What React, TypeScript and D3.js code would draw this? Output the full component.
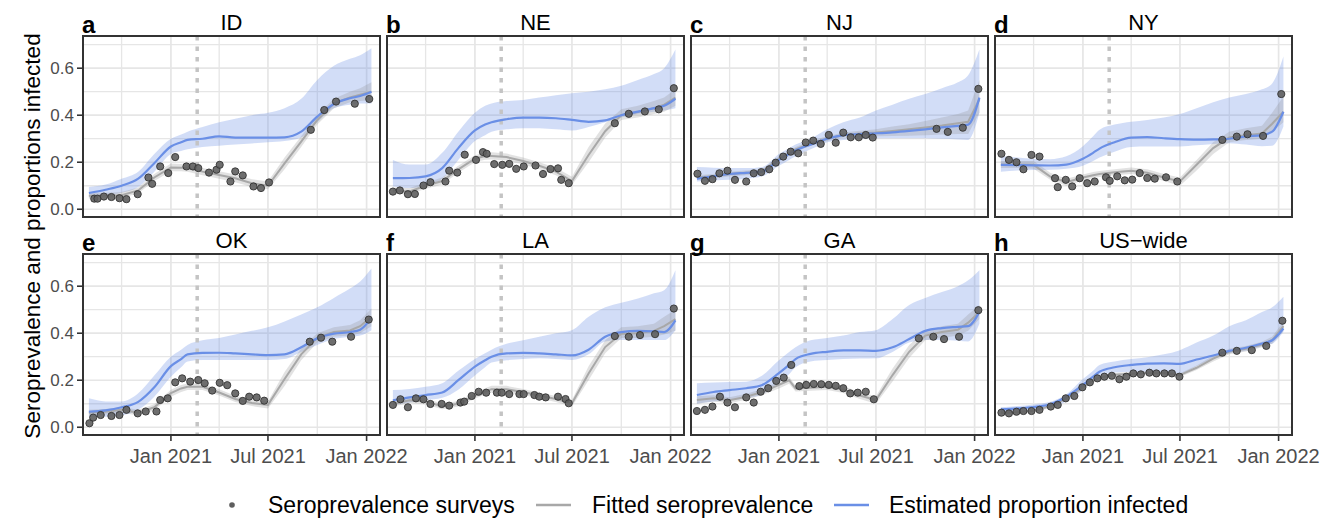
import React from "react";
import * as d3 from "d3";

const parse = d3.timeParse("%Y-%m-%d");

// panel titles and letters
const stateNames = ["ID", "NE", "NJ", "NY", "OK", "LA", "GA", "US\u2212wide"];
const panelLetters = ["a", "b", "c", "d", "e", "f", "g", "h"];

// x axis
const xStart = "2020-07-21";
const xEnd = "2022-01-26";
const xTickDates = ["2021-01-01", "2021-07-01", "2022-01-01"];
const xTickLabels = ["Jan 2021", "Jul 2021", "Jan 2022"];
const xMinorDates = ["2020-10-01", "2021-04-01", "2021-10-01"];
const markerDate = "2021-02-19";

// y axis
const yTicks = [0, 0.2, 0.4, 0.6];
const yTickLabels = ["0.0", "0.2", "0.4", "0.6"];
const yMinor = [0.1, 0.3, 0.5, 0.7];

// dates at which fitted / estimated curves are given
const curveDates = [
  "2020-08-01", "2020-09-01", "2020-10-01", "2020-11-01", "2020-12-01",
  "2021-01-01", "2021-01-20", "2021-02-01", "2021-03-01", "2021-04-01",
  "2021-05-01", "2021-06-01", "2021-07-01", "2021-08-01", "2021-09-01",
  "2021-10-01", "2021-11-01", "2021-12-01", "2021-12-20", "2022-01-10",
];

// ---- ID
const idFit = [0.057, 0.058, 0.06, 0.08, 0.135, 0.178, 0.177, 0.175, 0.16, 0.146, 0.132, 0.111, 0.10, 0.195, 0.288, 0.38, 0.45, 0.476, 0.487, 0.50];
const idFitLo = [0.045, 0.047, 0.048, 0.068, 0.12, 0.162, 0.162, 0.16, 0.145, 0.13, 0.115, 0.095, 0.085, 0.17, 0.265, 0.36, 0.43, 0.455, 0.46, 0.465];
const idFitHi = [0.07, 0.07, 0.073, 0.093, 0.15, 0.195, 0.193, 0.19, 0.175, 0.162, 0.148, 0.128, 0.118, 0.22, 0.31, 0.40, 0.47, 0.50, 0.515, 0.54];
const idEst = [0.069, 0.083, 0.10, 0.13, 0.196, 0.267, 0.285, 0.295, 0.30, 0.31, 0.305, 0.305, 0.305, 0.306, 0.33, 0.394, 0.448, 0.472, 0.482, 0.50];
const idEstLo = [0.05, 0.055, 0.07, 0.095, 0.16, 0.235, 0.248, 0.255, 0.265, 0.27, 0.275, 0.28, 0.285, 0.29, 0.305, 0.37, 0.43, 0.445, 0.45, 0.45];
const idEstHi = [0.095, 0.105, 0.13, 0.16, 0.235, 0.30, 0.318, 0.33, 0.35, 0.37, 0.385, 0.40, 0.41, 0.43, 0.47, 0.55, 0.61, 0.64, 0.655, 0.685];
const idSurveys: [string, number][] = [
  ["2020-08-11", 0.045], ["2020-08-17", 0.045], ["2020-08-29", 0.054], ["2020-09-12", 0.052], ["2020-09-27", 0.047],
  ["2020-10-10", 0.043], ["2020-10-31", 0.064], ["2020-11-20", 0.135], ["2020-11-27", 0.108], ["2020-12-12", 0.182],
  ["2020-12-27", 0.154], ["2021-01-09", 0.222], ["2021-01-30", 0.182], ["2021-02-11", 0.182], ["2021-02-21", 0.175],
  ["2021-03-13", 0.156], ["2021-03-27", 0.168], ["2021-04-02", 0.189], ["2021-04-22", 0.118], ["2021-05-01", 0.161],
  ["2021-05-15", 0.144], ["2021-06-04", 0.097], ["2021-06-18", 0.09], ["2021-07-03", 0.114], ["2021-09-19", 0.338],
  ["2021-10-14", 0.422], ["2021-11-05", 0.458], ["2021-12-10", 0.449], ["2022-01-06", 0.469],
];

// ---- NE
const neFit = [0.08, 0.076, 0.10, 0.12, 0.17, 0.215, 0.226, 0.227, 0.222, 0.205, 0.185, 0.16, 0.12, 0.231, 0.332, 0.40, 0.414, 0.43, 0.445, 0.475];
const neFitLo = [0.068, 0.064, 0.087, 0.105, 0.155, 0.2, 0.211, 0.212, 0.207, 0.19, 0.17, 0.145, 0.103, 0.2, 0.305, 0.38, 0.39, 0.405, 0.415, 0.44];
const neFitHi = [0.092, 0.09, 0.113, 0.135, 0.185, 0.23, 0.241, 0.242, 0.237, 0.22, 0.2, 0.177, 0.138, 0.265, 0.365, 0.425, 0.44, 0.46, 0.475, 0.51];
const neEst = [0.132, 0.133, 0.14, 0.175, 0.26, 0.335, 0.36, 0.37, 0.383, 0.39, 0.39, 0.387, 0.38, 0.372, 0.378, 0.40, 0.415, 0.43, 0.44, 0.47];
const neEstLo = [0.097, 0.09, 0.10, 0.13, 0.21, 0.29, 0.315, 0.33, 0.34, 0.345, 0.345, 0.34, 0.335, 0.35, 0.37, 0.39, 0.405, 0.415, 0.42, 0.43];
const neEstHi = [0.21, 0.19, 0.19, 0.24, 0.33, 0.41, 0.44, 0.45, 0.46, 0.465, 0.475, 0.485, 0.493, 0.50, 0.51, 0.525, 0.55, 0.575, 0.60, 0.68];
const neSurveys: [string, number][] = [
  ["2020-08-01", 0.075], ["2020-08-14", 0.08], ["2020-08-29", 0.064], ["2020-09-11", 0.065], ["2020-09-27", 0.101],
  ["2020-10-10", 0.115], ["2020-11-07", 0.118], ["2020-11-14", 0.164], ["2020-11-29", 0.156], ["2020-12-13", 0.232],
  ["2021-01-03", 0.21], ["2021-01-16", 0.243], ["2021-01-23", 0.236], ["2021-02-06", 0.192], ["2021-02-21", 0.189],
  ["2021-03-06", 0.193], ["2021-03-19", 0.172], ["2021-04-02", 0.182], ["2021-04-24", 0.186], ["2021-05-08", 0.15],
  ["2021-05-22", 0.171], ["2021-06-05", 0.174], ["2021-06-11", 0.125], ["2021-06-25", 0.111], ["2021-09-19", 0.366],
  ["2021-10-15", 0.406], ["2021-11-14", 0.416], ["2021-12-10", 0.425], ["2022-01-07", 0.515],
];

// ---- NJ
const njFit = [0.135, 0.14, 0.15, 0.155, 0.16, 0.215, 0.238, 0.255, 0.28, 0.30, 0.316, 0.322, 0.326, 0.333, 0.34, 0.348, 0.356, 0.366, 0.372, 0.468];
const njFitLo = [0.125, 0.13, 0.14, 0.145, 0.15, 0.205, 0.228, 0.245, 0.27, 0.29, 0.305, 0.31, 0.31, 0.312, 0.313, 0.315, 0.318, 0.32, 0.32, 0.41];
const njFitHi = [0.145, 0.15, 0.16, 0.165, 0.17, 0.225, 0.248, 0.265, 0.29, 0.31, 0.327, 0.334, 0.34, 0.352, 0.362, 0.375, 0.39, 0.405, 0.42, 0.55];
const njEst = [0.13, 0.14, 0.15, 0.155, 0.16, 0.21, 0.235, 0.25, 0.275, 0.30, 0.315, 0.32, 0.323, 0.327, 0.333, 0.34, 0.348, 0.355, 0.36, 0.475];
const njEstLo = [0.118, 0.122, 0.125, 0.13, 0.14, 0.185, 0.21, 0.225, 0.255, 0.285, 0.295, 0.30, 0.302, 0.302, 0.302, 0.302, 0.30, 0.297, 0.295, 0.41];
const njEstHi = [0.18, 0.177, 0.175, 0.175, 0.18, 0.235, 0.26, 0.275, 0.30, 0.34, 0.37, 0.39, 0.42, 0.445, 0.47, 0.49, 0.515, 0.54, 0.57, 0.68];
const njSurveys: [string, number][] = [
  ["2020-08-02", 0.151], ["2020-08-16", 0.121], ["2020-08-30", 0.128], ["2020-09-12", 0.153], ["2020-09-27", 0.164],
  ["2020-10-11", 0.125], ["2020-11-01", 0.118], ["2020-11-15", 0.153], ["2020-11-29", 0.158], ["2020-12-14", 0.17],
  ["2020-12-26", 0.198], ["2021-01-09", 0.224], ["2021-01-23", 0.245], ["2021-02-06", 0.238], ["2021-02-20", 0.284],
  ["2021-03-06", 0.292], ["2021-03-20", 0.278], ["2021-04-04", 0.316], ["2021-04-17", 0.283], ["2021-05-01", 0.326],
  ["2021-05-15", 0.306], ["2021-05-30", 0.306], ["2021-06-12", 0.316], ["2021-06-25", 0.305], ["2021-10-22", 0.342],
  ["2021-11-12", 0.329], ["2021-12-10", 0.347], ["2022-01-08", 0.512],
];

// ---- NY
const nyFit = [0.19, 0.19, 0.189, 0.139, 0.115, 0.135, 0.145, 0.15, 0.157, 0.164, 0.155, 0.135, 0.118, 0.189, 0.26, 0.305, 0.315, 0.322, 0.364, 0.415];
const nyFitLo = [0.175, 0.175, 0.172, 0.125, 0.1, 0.122, 0.132, 0.137, 0.145, 0.15, 0.14, 0.12, 0.1, 0.165, 0.235, 0.285, 0.295, 0.3, 0.33, 0.37];
const nyFitHi = [0.205, 0.205, 0.205, 0.155, 0.13, 0.148, 0.158, 0.163, 0.17, 0.178, 0.17, 0.15, 0.135, 0.21, 0.285, 0.33, 0.345, 0.355, 0.41, 0.48];
const nyEst = [0.189, 0.188, 0.187, 0.186, 0.19, 0.215, 0.24, 0.258, 0.285, 0.305, 0.307, 0.302, 0.298, 0.296, 0.297, 0.30, 0.31, 0.315, 0.33, 0.415];
const nyEstLo = [0.16, 0.165, 0.167, 0.168, 0.172, 0.185, 0.205, 0.22, 0.245, 0.265, 0.267, 0.267, 0.267, 0.272, 0.278, 0.281, 0.275, 0.268, 0.27, 0.352];
const nyEstHi = [0.225, 0.22, 0.215, 0.213, 0.225, 0.268, 0.31, 0.338, 0.36, 0.372, 0.38, 0.39, 0.405, 0.43, 0.455, 0.475, 0.49, 0.51, 0.535, 0.65];
const nySurveys: [string, number][] = [
  ["2020-08-02", 0.236], ["2020-08-16", 0.21], ["2020-08-30", 0.2], ["2020-09-12", 0.17], ["2020-09-27", 0.231],
  ["2020-10-12", 0.224], ["2020-11-10", 0.132], ["2020-11-15", 0.094], ["2020-11-30", 0.125], ["2020-12-12", 0.097],
  ["2020-12-26", 0.132], ["2021-01-09", 0.111], ["2021-01-23", 0.118], ["2021-02-13", 0.136], ["2021-02-20", 0.121],
  ["2021-03-06", 0.14], ["2021-03-20", 0.123], ["2021-04-03", 0.126], ["2021-04-17", 0.154], ["2021-05-01", 0.133],
  ["2021-05-15", 0.13], ["2021-06-05", 0.136], ["2021-06-26", 0.118], ["2021-09-18", 0.295], ["2021-10-15", 0.309],
  ["2021-11-04", 0.319], ["2021-12-03", 0.312], ["2022-01-06", 0.49],
];

// ---- OK
const okFit = [0.062, 0.066, 0.074, 0.062, 0.085, 0.145, 0.165, 0.172, 0.172, 0.148, 0.12, 0.103, 0.095, 0.205, 0.31, 0.38, 0.405, 0.412, 0.43, 0.47];
const okFitLo = [0.05, 0.054, 0.062, 0.05, 0.072, 0.13, 0.15, 0.158, 0.158, 0.135, 0.107, 0.09, 0.08, 0.175, 0.285, 0.36, 0.385, 0.39, 0.4, 0.43];
const okFitHi = [0.074, 0.078, 0.086, 0.074, 0.098, 0.16, 0.18, 0.186, 0.186, 0.162, 0.134, 0.117, 0.11, 0.235, 0.335, 0.4, 0.425, 0.435, 0.455, 0.505];
const okEst = [0.066, 0.072, 0.085, 0.108, 0.17, 0.26, 0.29, 0.31, 0.316, 0.317, 0.314, 0.31, 0.307, 0.31, 0.34, 0.378, 0.398, 0.405, 0.415, 0.465];
const okEstLo = [0.045, 0.045, 0.05, 0.074, 0.13, 0.215, 0.255, 0.28, 0.286, 0.286, 0.286, 0.286, 0.286, 0.29, 0.32, 0.35, 0.375, 0.385, 0.39, 0.413];
const okEstHi = [0.123, 0.11, 0.11, 0.145, 0.22, 0.30, 0.33, 0.35, 0.37, 0.38, 0.395, 0.41, 0.425, 0.45, 0.48, 0.51, 0.55, 0.59, 0.62, 0.675];
const okSurveys: [string, number][] = [
  ["2020-08-02", 0.017], ["2020-08-09", 0.041], ["2020-08-23", 0.052], ["2020-09-12", 0.048], ["2020-09-27", 0.052],
  ["2020-10-10", 0.074], ["2020-10-31", 0.059], ["2020-11-15", 0.067], ["2020-12-05", 0.067], ["2020-12-12", 0.116],
  ["2020-12-26", 0.123], ["2021-01-09", 0.191], ["2021-01-22", 0.208], ["2021-02-06", 0.194], ["2021-02-21", 0.201],
  ["2021-03-05", 0.187], ["2021-03-19", 0.156], ["2021-04-02", 0.189], ["2021-04-16", 0.179], ["2021-05-01", 0.144],
  ["2021-05-15", 0.112], ["2021-05-27", 0.13], ["2021-06-10", 0.127], ["2021-06-24", 0.113], ["2021-09-17", 0.364],
  ["2021-10-08", 0.381], ["2021-10-29", 0.364], ["2021-12-03", 0.385], ["2022-01-05", 0.458],
];

// ---- LA
const laFit = [0.099, 0.115, 0.11, 0.088, 0.10, 0.135, 0.152, 0.162, 0.162, 0.15, 0.135, 0.12, 0.102, 0.229, 0.341, 0.398, 0.40, 0.41, 0.43, 0.46];
const laFitLo = [0.088, 0.103, 0.098, 0.077, 0.088, 0.122, 0.138, 0.148, 0.148, 0.137, 0.122, 0.107, 0.088, 0.2, 0.315, 0.38, 0.38, 0.385, 0.395, 0.41];
const laFitHi = [0.11, 0.127, 0.122, 0.1, 0.112, 0.148, 0.166, 0.176, 0.176, 0.163, 0.148, 0.133, 0.116, 0.26, 0.37, 0.425, 0.43, 0.44, 0.47, 0.5];
const laEst = [0.115, 0.127, 0.137, 0.148, 0.20, 0.258, 0.285, 0.30, 0.314, 0.316, 0.314, 0.31, 0.306, 0.33, 0.385, 0.405, 0.41, 0.408, 0.405, 0.455];
const laEstLo = [0.095, 0.105, 0.115, 0.125, 0.16, 0.22, 0.255, 0.275, 0.285, 0.29, 0.293, 0.29, 0.286, 0.31, 0.365, 0.371, 0.371, 0.371, 0.371, 0.413];
const laEstHi = [0.158, 0.163, 0.172, 0.187, 0.24, 0.29, 0.315, 0.33, 0.355, 0.37, 0.385, 0.40, 0.413, 0.47, 0.51, 0.53, 0.548, 0.57, 0.583, 0.668];
const laSurveys: [string, number][] = [
  ["2020-08-01", 0.095], ["2020-08-15", 0.119], ["2020-08-29", 0.085], ["2020-09-13", 0.123], ["2020-09-27", 0.119],
  ["2020-10-10", 0.099], ["2020-10-31", 0.099], ["2020-11-14", 0.092], ["2020-12-05", 0.105], ["2020-12-12", 0.109],
  ["2020-12-26", 0.133], ["2021-01-08", 0.151], ["2021-01-22", 0.147], ["2021-02-11", 0.147], ["2021-02-20", 0.147],
  ["2021-03-06", 0.141], ["2021-03-25", 0.141], ["2021-04-02", 0.141], ["2021-04-22", 0.137], ["2021-05-01", 0.13],
  ["2021-05-13", 0.127], ["2021-06-05", 0.13], ["2021-06-19", 0.12], ["2021-06-25", 0.102], ["2021-09-19", 0.388],
  ["2021-10-15", 0.385], ["2021-11-05", 0.392], ["2021-12-03", 0.396], ["2022-01-07", 0.505],
];

// ---- GA
const gaFit = [0.116, 0.123, 0.115, 0.13, 0.15, 0.18, 0.20, 0.165, 0.168, 0.172, 0.16, 0.135, 0.116, 0.222, 0.321, 0.39, 0.405, 0.415, 0.445, 0.49];
const gaFitLo = [0.1, 0.11, 0.102, 0.117, 0.137, 0.165, 0.185, 0.152, 0.155, 0.158, 0.146, 0.12, 0.1, 0.195, 0.295, 0.37, 0.38, 0.39, 0.41, 0.46];
const gaFitHi = [0.132, 0.136, 0.128, 0.143, 0.163, 0.195, 0.215, 0.178, 0.181, 0.186, 0.174, 0.15, 0.132, 0.25, 0.35, 0.41, 0.43, 0.44, 0.48, 0.52];
const gaEst = [0.137, 0.15, 0.158, 0.166, 0.18, 0.23, 0.265, 0.29, 0.312, 0.321, 0.327, 0.327, 0.325, 0.34, 0.375, 0.41, 0.422, 0.427, 0.43, 0.49];
const gaEstLo = [0.10, 0.11, 0.115, 0.123, 0.14, 0.19, 0.225, 0.255, 0.28, 0.286, 0.29, 0.292, 0.293, 0.32, 0.36, 0.371, 0.371, 0.368, 0.365, 0.44];
const gaEstHi = [0.187, 0.19, 0.192, 0.194, 0.22, 0.285, 0.32, 0.34, 0.37, 0.38, 0.39, 0.405, 0.413, 0.46, 0.52, 0.55, 0.575, 0.60, 0.625, 0.668];
const gaSurveys: [string, number][] = [
  ["2020-08-01", 0.069], ["2020-08-16", 0.074], ["2020-08-30", 0.088], ["2020-09-13", 0.13], ["2020-09-27", 0.105],
  ["2020-10-11", 0.085], ["2020-11-01", 0.127], ["2020-11-15", 0.105], ["2020-11-28", 0.151], ["2020-12-12", 0.166],
  ["2020-12-27", 0.197], ["2021-01-10", 0.211], ["2021-01-24", 0.265], ["2021-02-08", 0.175], ["2021-02-21", 0.18],
  ["2021-03-07", 0.184], ["2021-03-21", 0.183], ["2021-04-04", 0.18], ["2021-04-17", 0.176], ["2021-05-01", 0.166],
  ["2021-05-14", 0.144], ["2021-05-28", 0.147], ["2021-06-12", 0.151], ["2021-06-27", 0.119], ["2021-09-19", 0.378],
  ["2021-10-16", 0.385], ["2021-11-05", 0.375], ["2021-12-03", 0.385], ["2022-01-08", 0.498],
];

// ---- US-wide
const usFit = [0.062, 0.064, 0.07, 0.09, 0.123, 0.17, 0.198, 0.212, 0.223, 0.228, 0.231, 0.231, 0.222, 0.253, 0.292, 0.322, 0.334, 0.352, 0.37, 0.43];
const usFitLo = [0.055, 0.057, 0.063, 0.082, 0.115, 0.162, 0.19, 0.204, 0.215, 0.22, 0.223, 0.223, 0.214, 0.243, 0.28, 0.31, 0.322, 0.34, 0.355, 0.41];
const usFitHi = [0.069, 0.071, 0.077, 0.098, 0.131, 0.178, 0.206, 0.22, 0.231, 0.236, 0.239, 0.239, 0.23, 0.263, 0.304, 0.334, 0.346, 0.364, 0.385, 0.45];
const usEst = [0.076, 0.08, 0.086, 0.098, 0.13, 0.18, 0.215, 0.236, 0.255, 0.265, 0.271, 0.272, 0.27, 0.288, 0.305, 0.325, 0.338, 0.356, 0.37, 0.42];
const usEstLo = [0.062, 0.066, 0.072, 0.085, 0.11, 0.16, 0.2, 0.22, 0.233, 0.236, 0.236, 0.233, 0.228, 0.26, 0.29, 0.314, 0.325, 0.345, 0.355, 0.406];
const usEstHi = [0.085, 0.09, 0.097, 0.108, 0.14, 0.205, 0.24, 0.265, 0.28, 0.29, 0.298, 0.31, 0.328, 0.36, 0.39, 0.43, 0.455, 0.49, 0.51, 0.555];
const usSurveys: [string, number][] = [
  ["2020-08-02", 0.062], ["2020-08-16", 0.059], ["2020-08-30", 0.066], ["2020-09-12", 0.069], ["2020-09-27", 0.069],
  ["2020-10-12", 0.074], ["2020-11-02", 0.088], ["2020-11-15", 0.095], ["2020-11-30", 0.123], ["2020-12-16", 0.133],
  ["2020-12-31", 0.17], ["2021-01-14", 0.191], ["2021-01-28", 0.208], ["2021-02-10", 0.215], ["2021-02-24", 0.219],
  ["2021-03-10", 0.204], ["2021-03-23", 0.215], ["2021-04-05", 0.229], ["2021-04-19", 0.225], ["2021-05-05", 0.232],
  ["2021-05-18", 0.229], ["2021-06-02", 0.229], ["2021-06-16", 0.229], ["2021-06-30", 0.215], ["2021-09-18", 0.317],
  ["2021-10-15", 0.325], ["2021-11-12", 0.328], ["2021-12-09", 0.346], ["2022-01-08", 0.453],
];

const fits = [idFit, neFit, njFit, nyFit, okFit, laFit, gaFit, usFit];
const fitLos = [idFitLo, neFitLo, njFitLo, nyFitLo, okFitLo, laFitLo, gaFitLo, usFitLo];
const fitHis = [idFitHi, neFitHi, njFitHi, nyFitHi, okFitHi, laFitHi, gaFitHi, usFitHi];
const ests = [idEst, neEst, njEst, nyEst, okEst, laEst, gaEst, usEst];
const estLos = [idEstLo, neEstLo, njEstLo, nyEstLo, okEstLo, laEstLo, gaEstLo, usEstLo];
const estHis = [idEstHi, neEstHi, njEstHi, nyEstHi, okEstHi, laEstHi, gaEstHi, usEstHi];
const surveys = [idSurveys, neSurveys, njSurveys, nySurveys, okSurveys, laSurveys, gaSurveys, usSurveys];

const FONT = "'Liberation Sans', Arial, Helvetica, sans-serif";
const BLUE = "#6a8fe6";
const GREY_LINE = "#a8a8a8";
const GRID = "#e6e6e6";

const panelX = [83, 387, 691, 995];
const panelY = [36, 254];
const PW = 297;
const PH = 181;

const dates = curveDates.map((d) => parse(d) as Date);

function Panel({ i }: { i: number }) {
  const col = i % 4;
  const row = Math.floor(i / 4);
  const x0 = panelX[col];
  const y0 = panelY[row];

  const x = d3.scaleTime().domain([parse(xStart) as Date, parse(xEnd) as Date]).range([x0, x0 + PW]);
  const y = d3.scaleLinear().domain([-0.033, 0.737]).range([y0 + PH, y0]);

  const band = (lo: number[], hi: number[], curve: d3.CurveFactory) =>
    d3
      .area<number>()
      .x((_, k) => x(dates[k]))
      .y0((_, k) => y(lo[k]))
      .y1((_, k) => y(hi[k]))
      .curve(curve)(lo) || "";

  const line = (v: number[], curve: d3.CurveFactory) =>
    d3
      .line<number>()
      .x((_, k) => x(dates[k]))
      .y((d) => y(d))
      .curve(curve)(v) || "";

  const clipId = `clip-${i}`;
  const mx = x(parse(markerDate) as Date);

  return (
    <g>
      <defs>
        <clipPath id={clipId}>
          <rect x={x0} y={y0} width={PW} height={PH} />
        </clipPath>
      </defs>
      <rect x={x0} y={y0} width={PW} height={PH} fill="white" />
      <g clipPath={`url(#${clipId})`}>
        {yMinor.map((v) => (
          <line key={"ym" + v} x1={x0} x2={x0 + PW} y1={y(v)} y2={y(v)} stroke={GRID} strokeWidth={1.3} />
        ))}
        {yTicks.map((v) => (
          <line key={"yM" + v} x1={x0} x2={x0 + PW} y1={y(v)} y2={y(v)} stroke={GRID} strokeWidth={1.7} />
        ))}
        {xMinorDates.map((d) => (
          <line key={"xm" + d} x1={x(parse(d) as Date)} x2={x(parse(d) as Date)} y1={y0} y2={y0 + PH} stroke={GRID} strokeWidth={1.3} />
        ))}
        {xTickDates.map((d) => (
          <line key={"xM" + d} x1={x(parse(d) as Date)} x2={x(parse(d) as Date)} y1={y0} y2={y0 + PH} stroke={GRID} strokeWidth={1.7} />
        ))}
        <path d={band(estLos[i], estHis[i], d3.curveMonotoneX)} fill={BLUE} fillOpacity={0.3} />
        <path d={band(fitLos[i], fitHis[i], d3.curveLinear)} fill="#8c8c8c" fillOpacity={0.25} />
        {i !== 7 && (
          <line x1={mx} x2={mx} y1={y0} y2={y0 + PH} stroke="#c4c4c4" strokeWidth={3.5} strokeDasharray="4.5,6" />
        )}
        <path d={line(fits[i], d3.curveLinear)} fill="none" stroke={GREY_LINE} strokeWidth={2} />
        <path d={line(ests[i], d3.curveMonotoneX)} fill="none" stroke={BLUE} strokeWidth={2.2} />
        {surveys[i].map(([d, v], k) => (
          <circle
            key={k}
            cx={x(parse(d) as Date)}
            cy={y(v)}
            r={3.6}
            fill="#5e5e5e"
            fillOpacity={0.9}
            stroke="#333"
            strokeWidth={0.9}
          />
        ))}
      </g>
      <rect x={x0} y={y0} width={PW} height={PH} fill="none" stroke="#333" strokeWidth={2} />
      <text x={x0 + PW / 2} y={y0 - 6} textAnchor="middle" fontSize={22} fill="#000">
        {stateNames[i]}
      </text>
      <text x={x0 - 1} y={y0 - 3} fontSize={24} fontWeight="bold" fill="#000">
        {panelLetters[i]}
      </text>
      {col === 0 &&
        yTicks.map((v, k) => (
          <g key={"yt" + v}>
            <line x1={x0 - 6} x2={x0} y1={y(v)} y2={y(v)} stroke="#333" strokeWidth={1.6} />
            <text x={x0 - 9} y={y(v)} dy="0.35em" textAnchor="end" fontSize={17} fill="#4d4d4d">
              {yTickLabels[k]}
            </text>
          </g>
        ))}
      {row === 1 &&
        xTickDates.map((d, k) => (
          <g key={"xt" + d}>
            <line x1={x(parse(d) as Date)} x2={x(parse(d) as Date)} y1={y0 + PH} y2={y0 + PH + 6} stroke="#333" strokeWidth={1.6} />
            <text x={x(parse(d) as Date)} y={y0 + PH + 28} textAnchor="middle" fontSize={20} fill="#4d4d4d">
              {xTickLabels[k]}
            </text>
          </g>
        ))}
    </g>
  );
}

export default function App() {
  const legendY = 505;
  return (
    <svg
      width={1334}
      height={520}
      style={{ position: "absolute", left: 0, top: 0, fontFamily: FONT, background: "white" }}
    >
      <rect width={1334} height={520} fill="white" />
      {stateNames.map((_, i) => (
        <Panel key={i} i={i} />
      ))}
      <text
        transform={`translate(40, 236) rotate(-90)`}
        textAnchor="middle"
        fontSize={22.5}
        fill="#000"
      >
        Seroprevalence and proportions infected
      </text>
      <g fontSize={23} fill="#000">
        <circle cx={232} cy={legendY} r={2.8} fill="#5e5e5e" />
        <text x={268} y={legendY} dy="0.35em">Seroprevalence surveys</text>
        <line x1={536} x2={571} y1={legendY} y2={legendY} stroke={GREY_LINE} strokeWidth={2.5} />
        <text x={592} y={legendY} dy="0.35em">Fitted seroprevalence</text>
        <line x1={834} x2={869} y1={legendY} y2={legendY} stroke={BLUE} strokeWidth={2.5} />
        <text x={889} y={legendY} dy="0.35em">Estimated proportion infected</text>
      </g>
    </svg>
  );
}
